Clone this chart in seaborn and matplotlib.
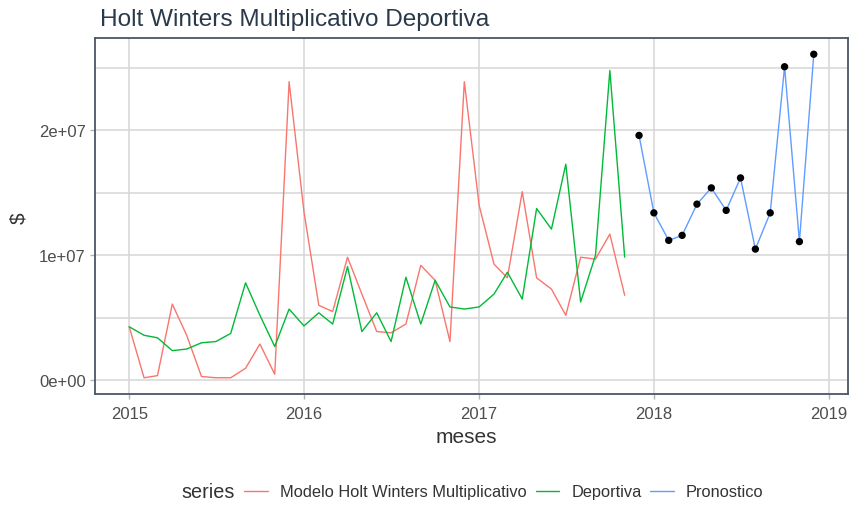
import numpy as np
import pandas as pd
import matplotlib
matplotlib.use("Agg")
import matplotlib.pyplot as plt
from matplotlib.lines import Line2D
import seaborn as sns

# ---- data (values in millions of $) ----
hist_start = "2015-01-01"
fc_start = "2017-12-01"
modelo = [4.28, 0.20, 0.37, 6.1, 3.6, 0.30, 0.20, 0.20, 0.96, 2.9, 0.48, 23.9,
          13.5, 6.0, 5.5, 9.85, 6.9, 3.9, 3.8, 4.5, 9.2, 8.0, 3.1, 23.9,
          14.0, 9.3, 8.2, 15.1, 8.2, 7.3, 5.2, 9.85, 9.7, 11.7, 6.8]
deportiva = [4.28, 3.6, 3.4, 2.37, 2.5, 3.0, 3.1, 3.75, 7.8, 5.2, 2.7, 5.7,
             4.35, 5.4, 4.5, 9.1, 3.9, 5.4, 3.1, 8.25, 4.5, 8.0, 5.87, 5.7,
             5.87, 6.9, 8.65, 6.5, 13.75, 12.1, 17.3, 6.27, 10.0, 24.8, 9.85]
pronostico = [19.6, 13.4, 11.2, 11.6, 14.1, 15.4, 13.6, 16.2, 10.5, 13.4, 25.1, 11.1, 26.1]
series_names = ["Modelo Holt Winters Multiplicativo", "Deportiva", "Pronostico"]
colors = ["#F8766D", "#00BA38", "#619CFF"]
x_ticks = ["2015", "2016", "2017", "2018", "2019"]
y_ticks = [0, 1e7, 2e7]
y_tick_labels = ["0e+00", "1e+07", "2e+07"]

hist_dates = pd.date_range(hist_start, periods=len(modelo), freq="MS")
fc_dates = pd.date_range(fc_start, periods=len(pronostico), freq="MS")
df = pd.concat([
    pd.DataFrame({"meses": hist_dates, "valor": np.array(modelo) * 1e6, "series": series_names[0]}),
    pd.DataFrame({"meses": hist_dates, "valor": np.array(deportiva) * 1e6, "series": series_names[1]}),
    pd.DataFrame({"meses": fc_dates, "valor": np.array(pronostico) * 1e6, "series": series_names[2]}),
], ignore_index=True)
df_fc = df[df["series"] == series_names[2]]

sns.set_theme(style="white")
plt.rcParams["font.family"] = ["Liberation Sans", "DejaVu Sans"]

W, H = 851, 506
fig = plt.figure(figsize=(W / 100, H / 100), dpi=100)
ax = fig.add_axes([95 / W, 1 - 395 / H, (848 - 95) / W, (395 - 39) / H])

grid_c = "#d6d6d6"
sns.lineplot(data=df, x="meses", y="valor", hue="series", hue_order=series_names,
             palette=colors, linewidth=1.0, ax=ax, legend=False, zorder=3)
sns.scatterplot(data=df_fc, x="meses", y="valor", color="black", s=28,
                edgecolor="none", ax=ax, legend=False, zorder=4)

xmin = pd.Timestamp("2015-01-01")
xmax = pd.Timestamp("2018-12-01")
span = xmax - xmin
ax.set_xlim(xmin - span * 0.05, xmax + span * 0.05)
ax.set_ylim(-1.1e6, 27.4e6)

ax.set_xticks([pd.Timestamp(f"{t}-01-01") for t in x_ticks])
ax.set_xticklabels(x_ticks)
ax.set_yticks(y_ticks)
ax.set_yticklabels(y_tick_labels)
ax.set_yticks([5e6, 15e6, 25e6], minor=True)

ax.grid(True, which="major", color=grid_c, linewidth=1.1, zorder=0)
ax.grid(True, which="minor", axis="y", color=grid_c, linewidth=1.1, zorder=0)
ax.set_axisbelow(True)

for sp in ax.spines.values():
    sp.set_color("#4a5566")
    sp.set_linewidth(1.3)

ax.tick_params(axis="both", which="major", length=3.5, width=1.0, color="#b3b3b3",
               labelsize=12, labelcolor="#4d4d4d", pad=3, bottom=True, left=True)
ax.tick_params(axis="x", which="major", pad=5)
ax.tick_params(axis="both", which="minor", length=0)

ax.set_xlabel("")
ax.set_ylabel("")
fig.text(466 / W, 1 - 438 / H, "meses", ha="center", va="center", fontsize=15, color="#333333")
fig.text(19 / W, 1 - 218 / H, "$", ha="center", va="center", fontsize=15, color="#333333", rotation=90)
fig.text(100 / W, 1 - 20 / H, "Holt Winters Multiplicativo Deportiva", ha="left", va="center",
         fontsize=17.6, color="#2b3a4a")

handles = [Line2D([0], [0], color=c, lw=1.0) for c in colors]
leg = fig.legend(handles, series_names, loc="center", bbox_to_anchor=(504 / W, 1 - 493 / H),
                 ncol=3, frameon=False, fontsize=11.8, handlelength=1.45, handletextpad=0.72,
                 columnspacing=0.55, labelcolor="#333333", borderpad=0, borderaxespad=0)
fig.text(235 / W, 1 - 493 / H, "series", ha="right", va="center", fontsize=14.3, color="#333333")

fig.savefig("out.png", dpi=100)
